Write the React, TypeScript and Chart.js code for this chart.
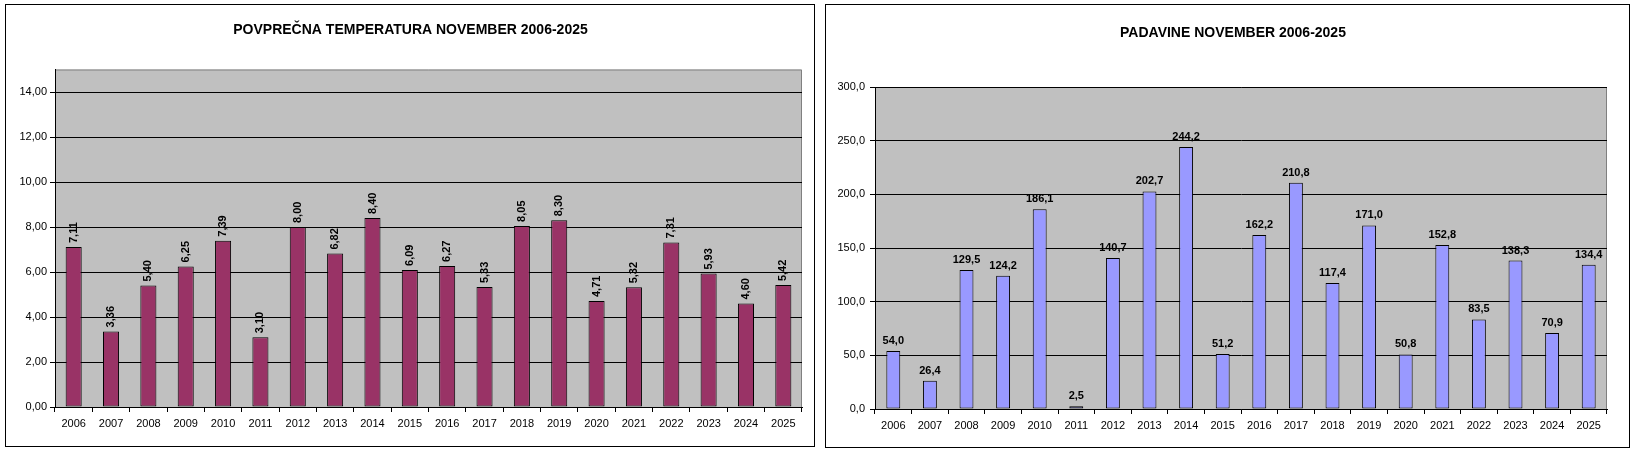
import React, { useEffect, useRef } from "react";
import { Chart, registerables } from "chart.js";

Chart.register(...registerables);

const years = ["2006","2007","2008","2009","2010","2011","2012","2013","2014","2015","2016","2017","2018","2019","2020","2021","2022","2023","2024","2025"];
const temperature = [7.11,3.36,5.40,6.25,7.39,3.10,8.00,6.82,8.40,6.09,6.27,5.33,8.05,8.30,4.71,5.32,7.31,5.93,4.60,5.42];
const precipitation = [54.0,26.4,129.5,124.2,186.1,2.5,140.7,202.7,244.2,51.2,162.2,210.8,117.4,171.0,50.8,152.8,83.5,138.3,70.9,134.4];
const tempTitle = "POVPREČNA TEMPERATURA NOVEMBER 2006-2025";
const precTitle = "PADAVINE NOVEMBER 2006-2025";
const tempMax = 15;
const tempStep = 2;
const tempTickTop = 14;
const precMax = 300;
const precStep = 50;

const FONT = "'Liberation Sans', Arial, sans-serif";

type Cfg = {
  title: string;
  titleX: number;
  titleY: number;
  data: number[];
  decimals: number;
  color: string;
  max: number;
  step: number;
  tickTop: number;
  barPct: number;
  padTop: number;
  padRight: number;
  yWidth: number;
  xHeight: number;
  yTickLen: number;
  yPad: number;
  rotated: boolean;
};

const fmt = (v: number, d: number) => v.toFixed(d).replace(".", ",");

function makeChart(canvas: HTMLCanvasElement, c: Cfg) {
  const plotPlugin = {
    id: "plotbg",
    beforeDraw(chart: any) {
      const { ctx, chartArea: a } = chart;
      ctx.save();
      ctx.fillStyle = "#C0C0C0";
      ctx.fillRect(a.left, a.top, a.right - a.left, a.bottom - a.top);
      ctx.strokeStyle = "#808080";
      ctx.lineWidth = 1;
      ctx.beginPath();
      ctx.moveTo(a.left, a.top + 0.5);
      ctx.lineTo(a.right - 0.5, a.top + 0.5);
      ctx.lineTo(a.right - 0.5, a.bottom);
      ctx.stroke();
      ctx.restore();
    },
    afterDraw(chart: any) {
      const ctx = chart.ctx;
      ctx.save();
      ctx.fillStyle = "#000";
      ctx.font = `bold 14px ${FONT}`;
      ctx.textAlign = "center";
      ctx.textBaseline = "middle";
      ctx.fillText(c.title, c.titleX, c.titleY);
      ctx.restore();
    },
    afterDatasetsDraw(chart: any) {
      const ctx = chart.ctx;
      const meta = chart.getDatasetMeta(0);
      ctx.save();
      ctx.fillStyle = "#000";
      ctx.font = `bold 11px ${FONT}`;
      meta.data.forEach((el: any, i: number) => {
        const txt = fmt(c.data[i], c.decimals);
        if (c.rotated) {
          ctx.save();
          ctx.translate(el.x, el.y - 4);
          ctx.rotate(-Math.PI / 2);
          ctx.textAlign = "left";
          ctx.textBaseline = "middle";
          ctx.fillText(txt, 0, 0);
          ctx.restore();
        } else {
          ctx.textAlign = "center";
          ctx.textBaseline = "alphabetic";
          ctx.fillText(txt, el.x, el.y - 7);
        }
      });
      ctx.restore();
    },
  };

  return new Chart(canvas, {
    type: "bar",
    data: {
      labels: years,
      datasets: [
        {
          data: c.data,
          backgroundColor: c.color,
          borderColor: "#000000",
          borderWidth: 1,
          borderSkipped: false,
          barPercentage: c.barPct,
          categoryPercentage: 1,
        },
      ],
    },
    options: {
      animation: false,
      responsive: false,
      devicePixelRatio: 1,
      layout: { padding: { top: c.padTop, right: c.padRight, left: 0, bottom: 0 } },
      plugins: {
        legend: { display: false },
        title: { display: false },
        tooltip: { enabled: false },
      },
      scales: {
        x: {
          offset: true,
          grid: {
            display: true,
            offset: true,
            drawOnChartArea: false,
            drawTicks: true,
            tickLength: 5,
            color: "#000",
          },
          border: { display: true, color: "#000", width: 1 },
          ticks: {
            color: "#000",
            font: { family: FONT, size: 11 },
            padding: 5,
            maxRotation: 0,
            autoSkip: false,
          },
          afterFit(scale: any) {
            scale.height = c.xHeight;
          },
        },
        y: {
          min: 0,
          max: c.max,
          grid: {
            color: "#000",
            drawTicks: true,
            tickLength: c.yTickLen,
          },
          border: { display: true, color: "#000", width: 1 },
          ticks: {
            stepSize: c.step,
            color: "#000",
            font: { family: FONT, size: 11 },
            padding: c.yPad,
            callback: (v: any) => fmt(Number(v), c.decimals),
          },
          afterBuildTicks(scale: any) {
            scale.ticks = scale.ticks.filter((t: any) => t.value <= c.tickTop + 1e-9);
          },
          afterFit(scale: any) {
            scale.width = c.yWidth;
          },
        },
      },
    },
    plugins: [plotPlugin],
  } as any);
}

function Panel(props: { left: number; top: number; w: number; h: number; cfg: Cfg }) {
  const ref = useRef<HTMLCanvasElement | null>(null);
  useEffect(() => {
    if (!ref.current) return;
    const ch = makeChart(ref.current, props.cfg);
    return () => ch.destroy();
  }, []);
  return (
    <div
      style={{
        position: "absolute",
        left: props.left,
        top: props.top,
        width: props.w,
        height: props.h,
        border: "1px solid #000",
        background: "#fff",
        boxSizing: "content-box",
      }}
    >
      <canvas ref={ref} width={props.w} height={props.h} style={{ display: "block", width: props.w, height: props.h }} />
    </div>
  );
}

export default function App() {
  const left: Cfg = {
    title: tempTitle,
    titleX: 404.5,
    titleY: 25,
    data: temperature,
    decimals: 2,
    color: "#993366",
    max: tempMax,
    step: tempStep,
    tickTop: tempTickTop,
    barPct: 0.43,
    padTop: 64.5,
    padRight: 12,
    yWidth: 49,
    xHeight: 39,
    yTickLen: 5,
    yPad: 3,
    rotated: true,
  };
  const right: Cfg = {
    title: precTitle,
    titleX: 407,
    titleY: 28,
    data: precipitation,
    decimals: 1,
    color: "#9999FF",
    max: precMax,
    step: precStep,
    tickTop: precMax,
    barPct: 0.38,
    padTop: 82,
    padRight: 22,
    yWidth: 49,
    xHeight: 38,
    yTickLen: 5,
    yPad: 5,
    rotated: false,
  };
  return (
    <div style={{ position: "absolute", left: 0, top: 0, width: 1634, height: 454, background: "#fff" }}>
      <Panel left={5} top={4} w={808} h={441} cfg={left} />
      <Panel left={825} top={4} w={803} h={442} cfg={right} />
    </div>
  );
}
